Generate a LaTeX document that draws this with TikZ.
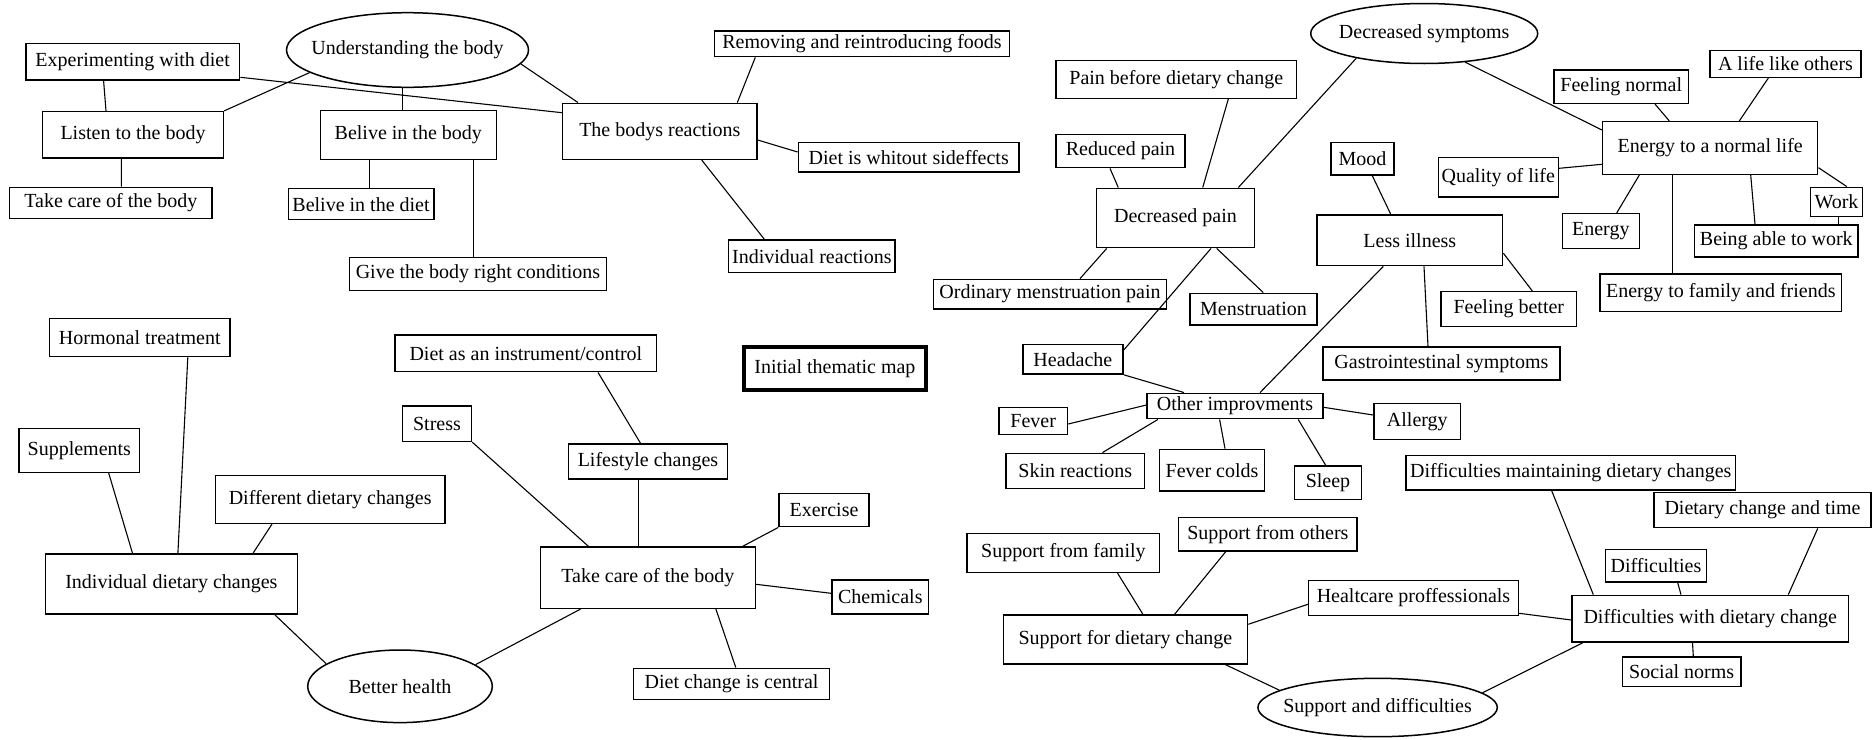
\documentclass[tikz,border=0pt]{standalone}
\usepackage{fontspec}
\setmainfont{Liberation Serif}
\usetikzlibrary{shapes.geometric}

\tikzset{
  cbox/.style={draw, rectangle, line width=1.5pt, inner sep=0pt,
               font=\fontsize{20}{24}\selectfont},
  ovalnode/.style={draw, ellipse, line width=1.5pt, inner sep=0pt,
               font=\fontsize{20}{24}\selectfont},
  titlebox/.style={cbox, line width=4pt},
  conn/.style={line width=1.1pt},
}

% \bx{name}{centre x}{centre y}{width}{height}{text}
\newcommand{\bx}[6]{\node[cbox, minimum width=#4pt, minimum height=#5pt] (#1) at (#2,#3) {#6};}
% \ov{name}{centre x}{centre y}{width}{height}{text}
\newcommand{\ov}[6]{\node[ovalnode, minimum width=#4pt, minimum height=#5pt] (#1) at (#2,#3) {\makebox[0pt]{#6}};}

\begin{document}
\begin{tikzpicture}[x=1pt, y=-1pt]
\path[use as bounding box] (0,0) rectangle (1876,739);

% ---------- understanding the body ----------
\ov{und}{407.5}{50}{242}{74.6}{Understanding the body}
\bx{exp}{132.7}{61.7}{213.9}{36.7}{Experimenting with diet}
\bx{listen}{133}{134.8}{180.7}{46.3}{Listen to the body}
\bx{takeA}{110.8}{202.8}{202.5}{31}{Take care of the body}
\bx{belbody}{408.3}{135}{175.9}{48.6}{Belive in the body}
\bx{beldiet}{361}{204.2}{145.5}{31}{Belive in the diet}
\bx{give}{478}{274.2}{257.1}{33}{Give the body right conditions}
\bx{bodys}{659.8}{131.3}{194.3}{56}{The bodys reactions}
\bx{removing}{862}{43.8}{294.6}{25.7}{Removing and reintroducing foods}
\bx{whitout}{908.7}{157.3}{220.7}{29.3}{Diet is whitout sideffects}
\bx{indreact}{811.8}{256.3}{166.3}{32.7}{Individual reactions}

% ---------- better health ----------
\bx{hormonal}{139.8}{337.5}{180.7}{38.4}{Hormonal treatment}
\bx{supp}{79.3}{450.3}{120.6}{44}{Supplements}
\bx{different}{330.2}{499.5}{229.3}{47.6}{Different dietary changes}
\bx{inddiet}{171.4}{584}{251.8}{60}{Individual dietary changes}
\ov{better}{400}{686.3}{184.6}{72.6}{Better health}
\bx{instrument}{525.9}{353.3}{261.4}{36.7}{Diet as an instrument/control}
\bx{stress}{437}{423.7}{68.9}{35.3}{Stress}
\bx{lifestyle}{648}{461.5}{158.8}{35}{Lifestyle changes}
\bx{exercise}{824}{510}{90}{33.4}{Exercise}
\bx{takeB}{647.8}{577.7}{215}{61.3}{Take care of the body}
\bx{chemicals}{880.3}{597}{96.8}{34}{Chemicals}
\bx{central}{731.6}{683.8}{196}{31}{Diet change is central}
\node[titlebox, minimum width=182.8pt, minimum height=43.3pt] (title) at (834.9,368.7) {Initial thematic map};

% ---------- decreased symptoms ----------
\ov{symptoms}{1424.2}{33.5}{227}{60}{Decreased symptoms}
\bx{painbefore}{1176.3}{79.3}{240.7}{38}{Pain before dietary change}
\bx{reduced}{1120.5}{151}{129}{33.4}{Reduced pain}
\bx{decpain}{1175.5}{218}{157.6}{59.4}{Decreased pain}
\bx{mood}{1362.5}{158.8}{63}{32.3}{Mood}
\bx{lessill}{1409.8}{240.3}{185.7}{50.7}{Less illness}
\bx{ordinary}{1050}{294.2}{233.4}{29.7}{Ordinary menstruation pain}
\bx{menstruation}{1253.5}{309.2}{127}{31.7}{Menstruation}
\bx{headache}{1072.9}{359.3}{100.2}{29.5}{Headache}
\bx{gastro}{1441.4}{363.6}{237.2}{32.8}{Gastrointestinal symptoms}
\bx{feelbetter}{1508.8}{309.2}{135.7}{35}{Feeling better}
\bx{other}{1235}{406}{175.8}{25.4}{Other improvments}
\bx{fever}{1033.2}{421}{68.6}{26.6}{Fever}
\bx{skin}{1075.3}{471}{138.6}{35.4}{Skin reactions}
\bx{fevercolds}{1212}{470.2}{104.7}{41.7}{Fever colds}
\bx{sleep}{1328}{482.7}{66.8}{33.3}{Sleep}
\bx{allergy}{1417.3}{421.3}{86.8}{36}{Allergy}
\bx{enl}{1710.2}{148}{215}{52.6}{Energy to a normal life}
\bx{feelnormal}{1621.2}{86.7}{134.3}{33.3}{Feeling normal}
\bx{lifelike}{1785.5}{64}{151}{26.6}{A life like others}
\bx{quality}{1498.3}{177.3}{120}{39.3}{Quality of life}
\bx{energy}{1600.8}{231}{77}{34.6}{Energy}
\bx{work}{1836.5}{202}{52.4}{29.4}{Work}
\bx{beingable}{1776.3}{241}{163.3}{32}{Being able to work}
\bx{family}{1720.8}{292.8}{241.7}{37.7}{Energy to family and friends}

% ---------- support and difficulties ----------
\bx{maintaining}{1570.8}{472.8}{329.7}{34.3}{Difficulties maintaining dietary changes}
\bx{time}{1762.5}{510}{217}{35.4}{Dietary change and time}
\bx{diffs}{1656}{565.7}{100.6}{32.7}{Difficulties}
\bx{with}{1710.2}{618.7}{276.3}{46.7}{Difficulties with dietary change}
\bx{social}{1681.7}{671.8}{118.7}{29.7}{Social norms}
\bx{sfamily}{1063.4}{552.8}{192.5}{39}{Support from family}
\bx{others}{1267.9}{534.3}{178.5}{33.3}{Support from others}
\bx{healtcare}{1413.5}{597.9}{209.7}{34.8}{Healtcare proffessionals}
\bx{supportfor}{1125.4}{639.5}{244.3}{49}{Support for dietary change}
\ov{sd}{1377.6}{707.5}{239.4}{58.4}{Support and difficulties}

% ---------- connectors ----------
\begin{scope}[conn]
% understanding the body
\draw ([xshift=-29.1pt]exp.south) -- ([xshift=-27pt]listen.north);
\draw (und.193) -- (listen.north east);
\draw ([yshift=-15.6pt]exp.east) -- ([yshift=18.6pt]bodys.west);
\draw ([xshift=-5pt]und.south) -- ([xshift=-5.8pt]belbody.north);
\draw (und.353) -- ([xshift=-81.8pt]bodys.north);
\draw ([xshift=-11.6pt]listen.south) -- ([xshift=10.6pt]takeA.north);
\draw ([xshift=-39pt]belbody.south) -- ([xshift=8.3pt]beldiet.north);
\draw ([xshift=65.4pt]belbody.south) -- ([xshift=-4.3pt]give.north);
\draw ([xshift=77.5pt]bodys.north) -- ([xshift=-106.7pt]removing.south);
\draw ([yshift=-8.7pt]bodys.east) -- ([yshift=5.3pt]whitout.west);
\draw ([xshift=41.9pt]bodys.south) -- ([xshift=-47.5pt]indreact.north);

% better health
\draw ([xshift=48pt]hormonal.south) -- ([xshift=6.5pt]inddiet.north);
\draw ([xshift=29.4pt]supp.south) -- ([xshift=-38.9pt]inddiet.north);
\draw ([xshift=-58.2pt]different.south) -- ([xshift=81.6pt]inddiet.north);
\draw ([xshift=103.4pt]inddiet.south) -- (better.163);
\draw (better.16) -- ([xshift=-67.3pt]takeB.south);
\draw (stress.south east) -- ([xshift=-59.4pt]takeB.north);
\draw ([xshift=72.1pt]instrument.south) -- ([xshift=-7.5pt]lifestyle.north);
\draw ([xshift=-9.8pt]lifestyle.south) -- ([xshift=-9.6pt]takeB.north);
\draw (exercise.south west) -- ([xshift=94.9pt]takeB.north);
\draw ([yshift=-6.6pt]takeB.east) -- ([yshift=3.7pt]chemicals.west);
\draw ([xshift=68.1pt]takeB.south) -- ([xshift=4.2pt]central.north);

% decreased symptoms
\draw (symptoms.200.9) -- ([xshift=62.8pt]decpain.north);
\draw (symptoms.325.4) -- ([yshift=18pt]enl.west);
\draw ([xshift=52pt]painbefore.south) -- ([xshift=27.2pt]decpain.north);
\draw ([xshift=-10.5pt]reduced.south) -- ([xshift=-57.2pt]decpain.north);
\draw ([xshift=-68.8pt]decpain.south) -- ([xshift=30pt]ordinary.north);
\draw ([xshift=35.5pt]decpain.south) -- ([yshift=9.3pt]headache.east);
\draw ([xshift=41.2pt]decpain.south) -- ([xshift=9.8pt]menstruation.north);
\draw ([xshift=9.8pt]mood.south) -- ([xshift=-19.1pt]lessill.north);
\draw ([xshift=-26.5pt]lessill.south) -- ([xshift=25pt]other.north);
\draw ([xshift=14.2pt]lessill.south) -- ([xshift=-13.4pt]gastro.north);
\draw ([yshift=-13pt]lessill.east) -- ([xshift=23.5pt]feelbetter.north);
\draw (headache.south east) -- ([xshift=-51pt]other.north);
\draw ([yshift=-3pt]fever.east) -- ([yshift=1pt]other.west);
\draw ([xshift=27.2pt]skin.north) -- ([xshift=-77.1pt]other.south);
\draw ([xshift=13pt]fevercolds.north) -- ([xshift=-15.4pt]other.south);
\draw ([xshift=-2.3pt]sleep.north) -- ([xshift=63.2pt]other.south);
\draw ([yshift=6.3pt]allergy.west) -- ([yshift=-1.3pt]other.east);
\draw ([xshift=33.8pt]feelnormal.south) -- ([xshift=-40.9pt]enl.north);
\draw ([xshift=-17.2pt]lifelike.south) -- ([xshift=29.1pt]enl.north);
\draw ([yshift=9pt]quality.east) -- ([yshift=-16.3pt]enl.west);
\draw ([xshift=15.9pt]energy.north) -- ([xshift=-70.9pt]enl.south);
\draw ([xshift=-37.7pt]enl.south) -- ([xshift=-48.3pt]family.north);
\draw ([xshift=40.5pt]enl.south) -- ([xshift=-21.3pt]beingable.north);
\draw ([yshift=-19.7pt]enl.east) -- ([xshift=10.2pt]work.north);
\draw ([xshift=1.8pt]work.south) -- ([xshift=62pt]beingable.north);

% support and difficulties
\draw ([xshift=54.1pt]sfamily.south) -- ([xshift=17.5pt]supportfor.north);
\draw ([xshift=-42.2pt]others.south) -- ([xshift=49.2pt]supportfor.north);
\draw ([yshift=15.2pt]supportfor.east) -- ([yshift=-6.4pt]healtcare.west);
\draw ([xshift=100.3pt]supportfor.south) -- (sd.170);
\draw ([xshift=-19.1pt]maintaining.south) -- ([xshift=-116.9pt]with.north);
\draw ([xshift=55.2pt]time.south) -- ([xshift=78.1pt]with.north);
\draw ([xshift=21.7pt]diffs.south) -- ([xshift=-29.2pt]with.north);
\draw ([yshift=-15.4pt]healtcare.east) -- ([yshift=-1.3pt]with.west);
\draw ([xshift=-17.7pt]with.south) -- ([xshift=11.6pt]social.north);
\draw (sd.8.5) -- ([xshift=-127.5pt]with.south);
\end{scope}
\end{tikzpicture}
\end{document}
